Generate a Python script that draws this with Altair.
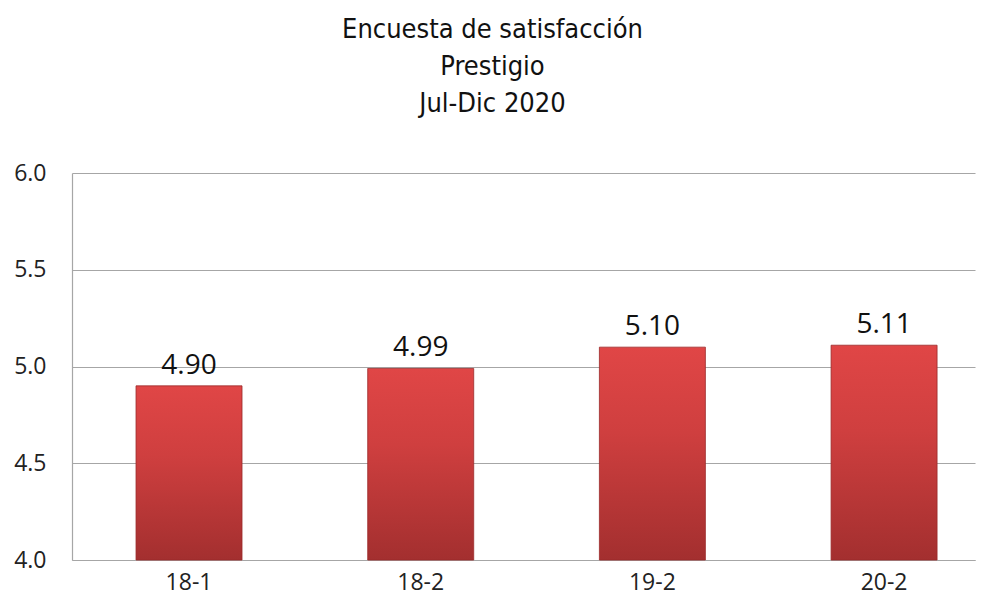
import altair as alt
import pandas as pd

categories = ["18-1", "18-2", "19-2", "20-2"]
values = [4.90, 4.99, 5.10, 5.11]
labels = ["4.90", "4.99", "5.10", "5.11"]
title_lines = ["Encuesta de satisfacción", "Prestigio", "Jul-Dic 2020"]
y_ticks = [4.0, 4.5, 5.0, 5.5, 6.0]

df = pd.DataFrame({"periodo": categories, "valor": values, "etiqueta": labels})

xscale = alt.Scale(paddingInner=0.5425, paddingOuter=0.22, align=0.628)
yscale = alt.Scale(domain=[4.0, 6.0], zero=False, nice=False)

x = alt.X("periodo:N", sort=categories, title=None, scale=xscale,
          axis=alt.Axis(labelAngle=0, grid=False))
y = alt.Y("valor:Q", title=None, scale=yscale,
          axis=alt.Axis(values=y_ticks, format=".1f"))

grad = alt.Gradient(gradient="linear", x1=0, x2=0, y1=0, y2=1,
                    stops=[alt.GradientStop(color="#e04646", offset=0),
                           alt.GradientStop(color="#cf3f3f", offset=0.4),
                           alt.GradientStop(color="#a32f2f", offset=1)])

bars = alt.Chart(df).mark_bar(color=grad, stroke="#9a2a2a", strokeWidth=0.8).encode(
    x=x, y=y, y2=alt.datum(4.0))

text = alt.Chart(df).mark_text(baseline="alphabetic", dy=-12, font="Open Sans",
                               fontSize=28, color="#111111").encode(
    x=x, y=y, text="etiqueta:N")

chart = (bars + text).properties(
    width=903, height=387,
    autosize=alt.AutoSizeParams(type="none"),
    padding={"left": 64, "top": 165, "right": 4, "bottom": 40},
    title=alt.TitleParams(title_lines, anchor="middle", font="DejaVu Sans Condensed",
                          fontSize=27, fontWeight="normal", color="#111111",
                          lineHeight=37, offset=44, dx=-31),
).configure_view(stroke=None).configure_axis(
    labelFont="Open Sans", labelFontSize=23, labelColor="#222222",
    ticks=False, domainColor="#a6a6a6", domainWidth=1.2,
    gridColor="#a6a6a6", gridWidth=1.2,
).configure_axisX(labelPadding=11).configure_axisY(labelPadding=26)

chart.save("out.html", embed_options={"renderer": "svg", "actions": False})
